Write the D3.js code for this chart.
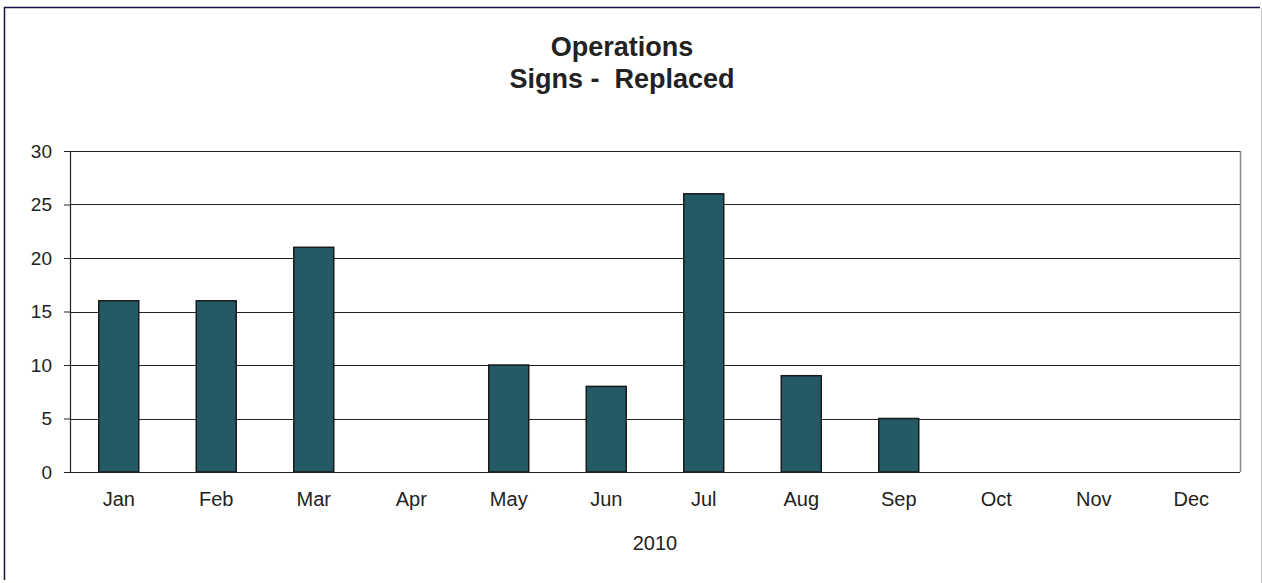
<!DOCTYPE html>
<html>
<head>
<meta charset="utf-8">
<script src="https://cdn.jsdelivr.net/npm/d3@7"></script>
<style>
  body { margin: 0; background: #fff; }
  svg { display: block; font-family: "Liberation Sans", Arial, sans-serif; }
</style>
</head>
<body>
<div id="chart"></div>
<script>
// Data
var months = ['Jan', 'Feb', 'Mar', 'Apr', 'May', 'Jun', 'Jul', 'Aug', 'Sep', 'Oct', 'Nov', 'Dec'];
var replaced = [16, 16, 21, null, 10, 8, 26, 9, 5, null, null, null];
var yTicks = [0, 5, 10, 15, 20, 25, 30];
var titleLines = ['Operations', 'Signs -  Replaced'];
var xTitle = '2010';

var width = 1262, height = 583;
var margin = {top: 151, right: 22, bottom: 111, left: 70};
var chartW = width - margin.left - margin.right,
    chartH = height - margin.top - margin.bottom;

var svg = d3.select('#chart').append('svg')
    .attr('width', width)
    .attr('height', height);

// outer frame: navy on left/top, light grey on the right
svg.append('line').attr('x1', 4.5).attr('x2', 4.5).attr('y1', 7).attr('y2', 580)
    .attr('stroke', '#14144a').attr('stroke-width', 1.5);
svg.append('line').attr('x1', 4).attr('x2', 1260).attr('y1', 7.5).attr('y2', 7.5)
    .attr('stroke', '#14144a').attr('stroke-width', 1.5);
svg.append('line').attr('x1', 1261.5).attr('x2', 1261.5).attr('y1', 8).attr('y2', 583)
    .attr('stroke', '#cccccc').attr('stroke-width', 1);

// title
svg.append('text')
    .attr('x', 622).attr('text-anchor', 'middle')
    .attr('font-size', 27).attr('font-weight', 'bold').attr('fill', '#222')
    .style('white-space', 'pre')
    .selectAll('tspan').data(titleLines).enter().append('tspan')
    .attr('x', 622)
    .attr('y', function(d, i) { return 56 + i * 32; })
    .text(function(d) { return d; });

var inner = svg.append('g').attr('transform', 'translate(' + margin.left + ',' + margin.top + ')');

var xScale = d3.scaleBand().domain(months).range([0, chartW]).paddingInner(0.59).paddingOuter(0.295);
var xBand = d3.scaleBand().domain(months).range([0, chartW]);
var yScale = d3.scaleLinear().domain([0, 30]).range([chartH, 0]);

// gridlines
inner.append('g').selectAll('line').data(yTicks.filter(function(d) { return d > 0; })).enter().append('line')
    .attr('x1', 0).attr('x2', chartW)
    .attr('y1', function(d) { return Math.round(yScale(d)) + 0.5; })
    .attr('y2', function(d) { return Math.round(yScale(d)) + 0.5; })
    .attr('stroke', '#222').attr('stroke-width', 1);

// right edge of plot area
inner.append('line')
    .attr('x1', chartW + 0.5).attr('x2', chartW + 0.5).attr('y1', 0).attr('y2', chartH)
    .attr('stroke', '#888').attr('stroke-width', 1.5);

// bars
var barData = months.map(function(m, i) { return {month: m, value: replaced[i]}; })
    .filter(function(d) { return d.value != null; });

inner.append('g').selectAll('rect').data(barData).enter().append('rect')
    .attr('x', function(d) { return xScale(d.month); })
    .attr('y', function(d) { return yScale(d.value); })
    .attr('width', xScale.bandwidth())
    .attr('height', function(d) { return chartH - yScale(d.value); })
    .attr('fill', '#235a66')
    .attr('stroke', '#1a1a1a').attr('stroke-width', 1.5);

// y axis
var yAxis = d3.axisLeft(yScale).tickValues(yTicks).tickSize(6).tickPadding(12);
var yG = inner.append('g').attr('class', 'axis-y').call(yAxis);
yG.select('.domain').remove();
yG.append('line').attr('x1', 0.5).attr('x2', 0.5).attr('y1', 0).attr('y2', chartH)
    .attr('stroke', '#222').attr('stroke-width', 1.2);
yG.selectAll('.tick line').attr('stroke', '#222');
yG.selectAll('text').attr('font-size', 19).attr('fill', '#222')
    .attr('font-family', '"Liberation Sans", Arial, sans-serif');

// x axis
var xAxis = d3.axisBottom(xBand).tickSize(0).tickPadding(20);
var xG = inner.append('g').attr('transform', 'translate(0,' + chartH + ')').call(xAxis);
xG.select('.domain').remove();
xG.append('line').attr('x1', 0).attr('x2', chartW).attr('y1', 0.5).attr('y2', 0.5)
    .attr('stroke', '#222').attr('stroke-width', 1.2);
xG.selectAll('text').attr('font-size', 20).attr('fill', '#222')
    .attr('font-family', '"Liberation Sans", Arial, sans-serif');

// x axis title
svg.append('text')
    .attr('x', margin.left + chartW / 2).attr('y', 550)
    .attr('text-anchor', 'middle').attr('font-size', 20).attr('fill', '#222')
    .text(xTitle);
</script>
</body>
</html>
